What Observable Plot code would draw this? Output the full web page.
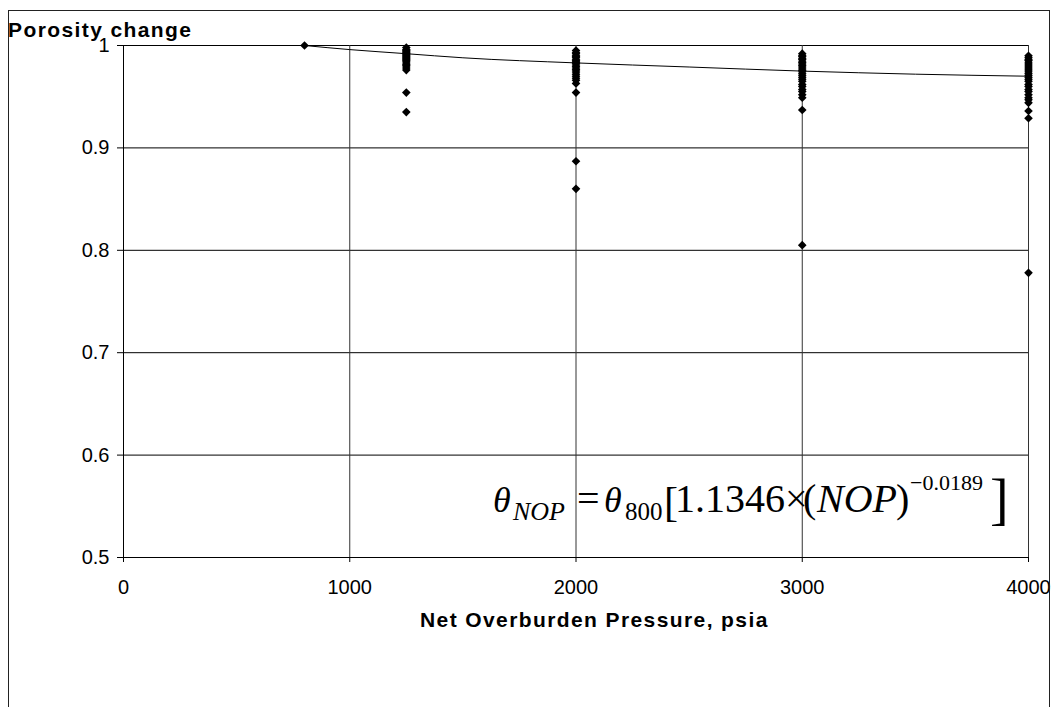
<!DOCTYPE html>
<html>
<head>
<meta charset="utf-8">
<script src="https://cdn.jsdelivr.net/npm/d3@7"></script>
<script src="https://cdn.jsdelivr.net/npm/@observablehq/plot@0.6"></script>
<style>
  html, body { margin: 0; padding: 0; background: #fff; }
  #chart svg { display: block; }
</style>
</head>
<body>
<div id="chart"></div>
<script>
// ---- data ----
const pressures = [800, 1250, 2000, 3000, 4000];
const porosity800 = [1.000];
const porosity1250 = [0.998, 0.996, 0.995, 0.994, 0.993, 0.992, 0.991, 0.990, 0.989, 0.988, 0.987, 0.986, 0.985, 0.984, 0.982, 0.981, 0.980, 0.978, 0.976, 0.954, 0.935];
const porosity2000 = [0.995, 0.993, 0.992, 0.990, 0.989, 0.988, 0.986, 0.985, 0.984, 0.983, 0.982, 0.980, 0.979, 0.977, 0.976, 0.974, 0.972, 0.970, 0.968, 0.966, 0.963, 0.954, 0.887, 0.860];
const porosity3000 = [0.992, 0.990, 0.989, 0.987, 0.986, 0.984, 0.983, 0.981, 0.980, 0.978, 0.976, 0.975, 0.973, 0.971, 0.969, 0.967, 0.965, 0.962, 0.960, 0.957, 0.955, 0.952, 0.949, 0.937, 0.805];
const porosity4000 = [0.990, 0.988, 0.986, 0.985, 0.983, 0.981, 0.979, 0.977, 0.975, 0.973, 0.971, 0.969, 0.967, 0.965, 0.962, 0.960, 0.957, 0.955, 0.952, 0.949, 0.947, 0.944, 0.936, 0.929, 0.778];
const fitPressure = [800, 1000, 1250, 1500, 2000, 2500, 3000, 3500, 4000];
const fitPorosity = [1.000, 0.996, 0.992, 0.988, 0.983, 0.979, 0.975, 0.972, 0.970];
const xTicks = [0, 1000, 2000, 3000, 4000];
const yTicks = [0.5, 0.6, 0.7, 0.8, 0.9, 1.0];
const yGrid = [0.6, 0.7, 0.8, 0.9, 1.0];
const xGrid = [1000, 2000, 3000, 4000];

// ---- tables built from the arrays ----
const groups = [porosity800, porosity1250, porosity2000, porosity3000, porosity4000];
const points = [];
groups.forEach((vals, i) => vals.forEach(v => points.push({x: pressures[i], y: v})));
const fit = fitPressure.map((x, i) => ({x, y: fitPorosity[i]}));

const W = 1054, H = 707;
const chart = Plot.plot({
  width: W,
  height: H,
  marginLeft: 123,
  marginRight: 26,
  marginTop: 45,
  marginBottom: 150,
  style: {fontFamily: "'Liberation Sans', Arial, sans-serif", fontSize: "20px", color: "#000", background: "#fff"},
  x: {domain: [0, 4000]},
  y: {domain: [0.5, 1.0]},
  marks: [
    Plot.gridY(yGrid, {stroke: "#000", strokeOpacity: 1, strokeWidth: 1}),
    Plot.gridX(xGrid, {stroke: "#333", strokeOpacity: 1, strokeWidth: 1}),
    Plot.ruleX([0], {stroke: "#000", strokeWidth: 1}),
    Plot.ruleY([0.5], {stroke: "#000", strokeWidth: 1}),
    Plot.line(fit, {x: "x", y: "y", stroke: "#000", strokeWidth: 1, curve: "monotone-x"}),
    Plot.dot(points, {x: "x", y: "y", symbol: "diamond2", r: 3.9, fill: "#000", stroke: "none"}),
    Plot.axisY(yTicks, {tickSize: 6, tickPadding: 8, label: null, tickFormat: d => d3.format("")(+d.toFixed(1)), fontSize: 20}),
    Plot.axisX(xTicks, {tickSize: 5, tickPadding: 17, label: null, tickFormat: d => String(d), fontSize: 20})
  ]
});
document.getElementById("chart").appendChild(chart);

const svg = d3.select(chart);
// outer frame
svg.append("rect")
  .attr("x", 8.5).attr("y", 10.5).attr("width", 1041).attr("height", 720)
  .attr("fill", "none").attr("stroke", "#222").attr("stroke-width", 1);

// title
svg.append("text")
  .attr("x", 8).attr("y", 37)
  .attr("text-anchor", "start")
  .attr("font-family", "'Liberation Sans', Arial, sans-serif")
  .attr("font-weight", "bold").attr("font-size", 21).attr("letter-spacing", 1.4)
  .attr("fill", "#000")
  .text("Porosity change");

// x-axis title
svg.append("text")
  .attr("x", 420).attr("y", 627)
  .attr("text-anchor", "start")
  .attr("font-family", "'Liberation Sans', Arial, sans-serif")
  .attr("font-weight", "bold").attr("font-size", 21).attr("letter-spacing", 1.4)
  .attr("fill", "#000")
  .text("Net Overburden Pressure, psia");

// equation
const eq = svg.append("g")
  .attr("font-family", "'Liberation Serif', 'Times New Roman', serif")
  .attr("text-anchor", "start")
  .attr("fill", "#000");
const piece = (x, y, size, txt, italic) => eq.append("text")
  .attr("x", x).attr("y", y).attr("font-size", size)
  .attr("text-anchor", "start")
  .attr("font-style", italic ? "italic" : "normal").text(txt);
piece(493, 512, 36, "θ", true);
piece(513, 520, 26, "NOP", true);
piece(577, 512, 40, "=", false);
piece(604, 512, 36, "θ", true);
piece(625, 520, 25, "800", false);
piece(664, 516, 42, "[", false);
piece(675, 512, 40, "1.1346×", false);
piece(803, 512, 40, "(", false);
piece(817, 512, 40, "NOP", true);
piece(896, 512, 40, ")", false);
piece(910, 490, 22, "−0.0189", false);
piece(990, 518, 56, "]", false);
</script>
</body>
</html>
